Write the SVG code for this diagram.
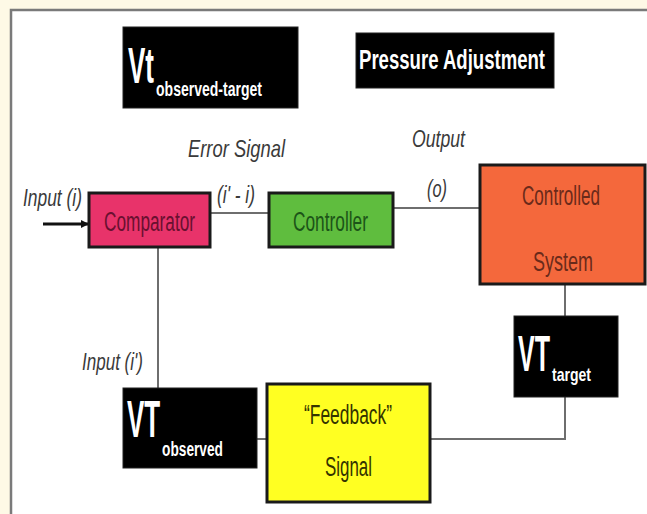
<svg xmlns="http://www.w3.org/2000/svg" width="647" height="514" viewBox="0 0 647 514">
<style>
.lbl{font-family:"Liberation Sans",Arial,sans-serif;font-style:italic;fill:#3a3a3a;font-size:24px}
.blk{fill:#000;stroke:#222;stroke-width:1}
.wt{font-family:"Liberation Sans",Arial,sans-serif;font-weight:bold;fill:#fff}
.bx{stroke:#1a1a1a;stroke-width:3}
.bt{font-family:"Liberation Sans",Arial,sans-serif;font-size:27px}
.ln{stroke:#6e6e6e;stroke-width:2;fill:none}
</style>
<defs>
<marker id="ah" markerWidth="8" markerHeight="8" refX="7" refY="4" orient="auto" markerUnits="userSpaceOnUse">
<path d="M0,0 L8,4 L0,8 z" fill="#111"/>
</marker>
</defs>
<rect x="0" y="0" width="647" height="514" fill="#fef9e6"/>
<rect x="11" y="10" width="640" height="510" fill="#fff"/>
<path d="M11,514 L11,10 L647,10" stroke="#7a7a7a" stroke-width="2.5" fill="none"/>

<g id="connectors">
<line x1="43" y1="224" x2="88" y2="224" stroke="#111" stroke-width="3" marker-end="url(#ah)"/>
<line class="ln" x1="210" y1="213" x2="269" y2="213"/>
<line class="ln" x1="393" y1="208" x2="480" y2="208"/>
<line class="ln" x1="158" y1="247" x2="158" y2="388"/>
<line class="ln" x1="565" y1="284" x2="565" y2="316"/>
<polyline class="ln" points="565,397 565,439 430,439"/>
<line class="ln" x1="257" y1="439" x2="267" y2="439"/>
<text class="lbl" x="23" y="206" textLength="59" lengthAdjust="spacingAndGlyphs">Input (i)</text>
<text class="lbl" x="188" y="157" textLength="97" lengthAdjust="spacingAndGlyphs">Error  Signal</text>
<text class="lbl" x="217" y="203" textLength="38" lengthAdjust="spacingAndGlyphs">(i' - i)</text>
<text class="lbl" x="412" y="147" textLength="53" lengthAdjust="spacingAndGlyphs">Output</text>
<text class="lbl" x="427" y="197" textLength="20" lengthAdjust="spacingAndGlyphs">(o)</text>
<text class="lbl" x="82" y="370" textLength="61" lengthAdjust="spacingAndGlyphs">Input (i')</text>
</g>

<g id="vt-observed-target">
<rect class="blk" x="123" y="27" width="175" height="81"/>
<text class="wt" transform="translate(128,83) scale(0.52,1)" font-size="50">Vt</text>
<text class="wt" x="156" y="96" font-size="21" textLength="106" lengthAdjust="spacingAndGlyphs">observed-target</text>
</g>

<g id="pressure-adjustment">
<rect class="blk" x="356" y="33" width="198" height="55"/>
<text class="wt" x="359" y="69" font-size="28" textLength="186" lengthAdjust="spacingAndGlyphs">Pressure Adjustment</text>
</g>

<g id="comparator">
<rect class="bx" x="89" y="193" width="121" height="54" fill="#e8336a"/>
<text class="bt" x="104" y="231" fill="#6a1030" textLength="91" lengthAdjust="spacingAndGlyphs">Comparator</text>
</g>

<g id="controller">
<rect class="bx" x="269" y="193" width="124" height="54" fill="#5fbd3e"/>
<text class="bt" x="293" y="231" fill="#1c5418" textLength="75" lengthAdjust="spacingAndGlyphs">Controller</text>
</g>

<g id="controlled-system">
<rect class="bx" x="480" y="165" width="165" height="119" fill="#f4683c"/>
<text class="bt" x="522" y="205" fill="#6a2a1a" textLength="78" lengthAdjust="spacingAndGlyphs">Controlled</text>
<text class="bt" x="533" y="271" fill="#6a2a1a" textLength="60" lengthAdjust="spacingAndGlyphs">System</text>
</g>

<g id="vt-target">
<rect class="blk" x="514" y="316" width="104" height="81"/>
<text class="wt" transform="translate(518,371) scale(0.5,1)" font-size="50">VT</text>
<text class="wt" x="552" y="381" font-size="19" textLength="39" lengthAdjust="spacingAndGlyphs">target</text>
</g>

<g id="vt-observed">
<rect class="blk" x="123" y="388" width="134" height="80"/>
<text class="wt" transform="translate(127,437) scale(0.5,1)" font-size="52">VT</text>
<text class="wt" x="162" y="456" font-size="20" textLength="61" lengthAdjust="spacingAndGlyphs">observed</text>
</g>

<g id="feedback-signal">
<rect class="bx" x="267" y="384" width="163" height="118" fill="#ffff22"/>
<text class="bt" x="304" y="424" fill="#333300" textLength="88" lengthAdjust="spacingAndGlyphs">“Feedback”</text>
<text class="bt" x="325" y="476" fill="#333300" textLength="47" lengthAdjust="spacingAndGlyphs">Signal</text>
</g>
</svg>
